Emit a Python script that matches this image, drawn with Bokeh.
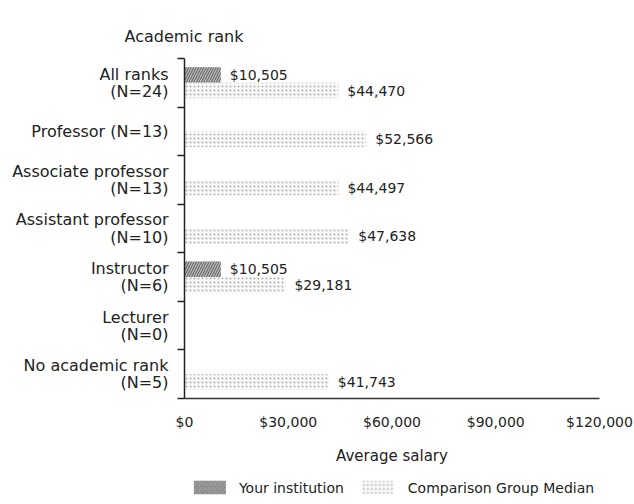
from bokeh.plotting import figure
from bokeh.layouts import column
from bokeh.models import Range1d, FixedTicker, Legend, LegendItem, ColumnDataSource
from bokeh.embed import file_html
from bokeh.resources import INLINE

# ---- data ----
categories = [
    "All ranks\n(N=24)",
    "Professor (N=13)",
    "Associate professor\n(N=13)",
    "Assistant professor\n(N=10)",
    "Instructor\n(N=6)",
    "Lecturer\n(N=0)",
    "No academic rank\n(N=5)",
]
your_institution = [10505, None, None, None, 10505, None, None]
comparison_median = [44470, 52566, 44497, 47638, 29181, None, 41743]
x_ticks = [0, 30000, 60000, 90000, 120000]
x_tick_labels = ["$0", "$30,000", "$60,000", "$90,000", "$120,000"]
series_names = ["Your institution", "Comparison Group Median"]

FONT = "DejaVu Sans"
TXT = "#222222"

INST_STYLE = dict(fill_color="#b8b8b8", line_color=None,
                  hatch_pattern="right_diagonal_line", hatch_color="#5a5a5a",
                  hatch_scale=5, hatch_weight=1)
COMP_STYLE = dict(fill_color="#fafafa", line_color=None,
                  hatch_pattern="dot", hatch_color="#b0b0b0",
                  hatch_scale=4, hatch_weight=1)


def make_source(vals, offset):
    ys, xs, labels = [], [], []
    for i, v in enumerate(vals):
        if v is None:
            continue
        ys.append(i + offset)
        xs.append(v)
        labels.append("${:,}".format(v))
    return ColumnDataSource(dict(y=ys, x=xs, label=labels))


src_inst = make_source(your_institution, 0.34)
src_comp = make_source(comparison_median, 0.66)

p = figure(
    width=634, height=470,
    x_range=Range1d(0, 120000), y_range=Range1d(7, 0),
    output_backend="svg", toolbar_location=None,
    min_border_left=184, min_border_right=35,
    min_border_top=58, min_border_bottom=72,
)
p.outline_line_color = None
p.grid.visible = False
p.background_fill_color = "white"

# title above the y axis
p.title.text = "Academic rank"
p.title.align = "left"
p.title.offset = -60
p.title.standoff = 26
p.title.text_font = FONT
p.title.text_font_size = "16px"
p.title.text_font_style = "normal"
p.title.text_color = TXT

p.hbar(y="y", right="x", left=0, height=0.32, source=src_inst, **INST_STYLE)
p.hbar(y="y", right="x", left=0, height=0.32, source=src_comp, **COMP_STYLE)

for src in (src_inst, src_comp):
    p.text(x="x", y="y", text="label", source=src, x_offset=9,
           text_align="left", text_baseline="middle",
           text_font={"value": FONT}, text_font_size="14px", text_color=TXT)

# y axis
ya = p.yaxis[0]
ya.ticker = FixedTicker(ticks=[i + 0.5 for i in range(len(categories))],
                        minor_ticks=list(range(len(categories) + 1)))
ya.major_label_overrides = {i + 0.5: c for i, c in enumerate(categories)}
ya.major_tick_line_color = None
ya.major_tick_out = 0
ya.major_tick_in = 0
ya.minor_tick_out = 7
ya.minor_tick_in = 0
ya.minor_tick_line_color = TXT
ya.minor_tick_line_width = 1.5
ya.axis_line_color = TXT
ya.axis_line_width = 1.5
ya.major_label_standoff = 9
ya.major_label_text_font = FONT
ya.major_label_text_font_size = "16px"
ya.major_label_text_line_height = 0.9
ya.major_label_text_color = TXT

# x axis
xa = p.xaxis[0]
xa.ticker = FixedTicker(ticks=x_ticks)
xa.major_label_overrides = {t: l for t, l in zip(x_ticks, x_tick_labels)}
xa.major_tick_line_color = None
xa.major_tick_out = 0
xa.major_tick_in = 0
xa.minor_tick_line_color = None
xa.axis_line_color = "#333333"
xa.axis_line_width = 1.5
xa.major_label_standoff = 15
xa.major_label_text_font = FONT
xa.major_label_text_font_size = "14px"
xa.major_label_text_color = TXT
xa.axis_label = "Average salary"
xa.axis_label_standoff = 14
xa.axis_label_text_font = FONT
xa.axis_label_text_font_size = "15px"
xa.axis_label_text_font_style = "normal"
xa.axis_label_text_color = TXT

# legend in its own strip below the chart (legend glyphs kept outside the view)
lf = figure(width=634, height=34, output_backend="svg", toolbar_location=None,
            x_axis_location=None, y_axis_location=None,
            min_border_left=184, min_border_right=35,
            min_border_top=0, min_border_bottom=0,
            x_range=Range1d(0, 1), y_range=Range1d(0, 1))
lf.outline_line_color = None
lf.grid.visible = False
hidden = dict(y=[-10], x=[1])
lr1 = lf.hbar(y="y", right="x", left=0, height=0.5, source=ColumnDataSource(hidden), **INST_STYLE)
lr2 = lf.hbar(y="y", right="x", left=0, height=0.5, source=ColumnDataSource(hidden), **COMP_STYLE)
legend = Legend(
    items=[LegendItem(label=series_names[0], renderers=[lr1], index=0),
           LegendItem(label=series_names[1], renderers=[lr2], index=0)],
    orientation="horizontal", location="center",
    padding=0, margin=0, spacing=14,
    glyph_width=40, glyph_height=17, label_height=17, label_standoff=10,
    label_text_font=FONT, label_text_font_size="14px", label_text_color=TXT,
    border_line_color=None, background_fill_alpha=0,
)
lf.add_layout(legend)

layout = column(p, lf, spacing=0)
open("out.html", "w").write(file_html(layout, INLINE))
